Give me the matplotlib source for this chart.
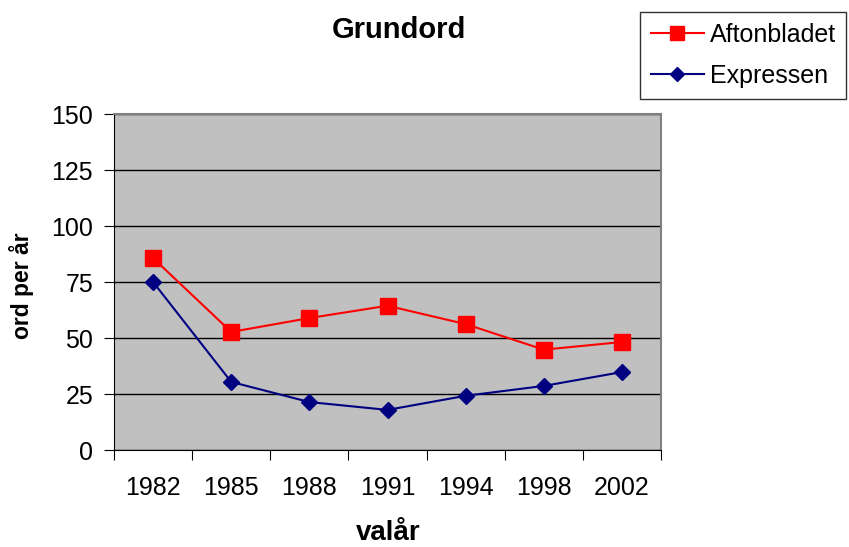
import matplotlib
matplotlib.use("Agg")
import matplotlib.pyplot as plt
from matplotlib.lines import Line2D

plt.rcParams['font.family'] = ['Liberation Sans', 'DejaVu Sans']

years = ["1982", "1985", "1988", "1991", "1994", "1998", "2002"]
aftonbladet = [85.7, 52.7, 58.9, 64.4, 56.2, 44.8, 48.2]
expressen = [75.0, 30.4, 21.4, 17.9, 24.2, 28.6, 34.8]
yticks = [0, 25, 50, 75, 100, 125, 150]

FS = 18

fig = plt.figure(figsize=(8.49, 5.47), dpi=100)
ax = fig.add_axes([114/849, 1-450/547, 547/849, 336/547])
ax.set_facecolor('#c0c0c0')

x = list(range(len(years)))
ax.plot(x, aftonbladet, color='#ff0000', marker='s', markersize=11, lw=1.5,
        markeredgecolor='#ff0000', label='Aftonbladet', zorder=3)
ax.plot(x, expressen, color='#000080', marker='D', markersize=8.5, lw=1.5,
        markeredgecolor='#000080', label='Expressen', zorder=3)

ax.set_xlim(-0.5, len(years) - 0.5)
ax.set_ylim(0, 150)
ax.set_yticks(yticks)
ax.set_yticklabels([str(v) for v in yticks])
ax.yaxis.grid(True, color='black', lw=1)
ax.set_axisbelow(True)

ax.set_xticks([i - 0.5 for i in range(len(years) + 1)])
ax.set_xticklabels([])
ax.set_xticks(x, minor=True)
ax.set_xticklabels(years, minor=True)
ax.tick_params(axis='x', which='minor', length=0, pad=19, labelsize=FS)
ax.tick_params(axis='x', which='major', length=7, direction='out', color='black')
ax.tick_params(axis='y', length=7, direction='out', labelsize=FS, pad=8)

for s in ['top', 'right']:
    ax.spines[s].set_color('#808080')
    ax.spines[s].set_linewidth(1.5)
ax.spines['left'].set_color('black')
ax.spines['bottom'].set_color('black')

fig.text(399/849, 1-30/547, 'Grundord', ha='center', va='center',
         fontsize=21, fontweight='bold')
fig.text(388/849, 1-533/547, 'valår', ha='center', va='center',
         fontsize=20, fontweight='bold')
fig.text(22/849, 1-286/547, 'ord per år', ha='center', va='center',
         fontsize=16.5, fontweight='bold', rotation=90)

handles = [
    Line2D([], [], color='#ff0000', marker='s', markersize=10, lw=1.5),
    Line2D([], [], color='#000080', marker='D', markersize=7, lw=1.5),
]
leg = fig.legend(handles, ['Aftonbladet', 'Expressen'],
                 loc='upper left', bbox_to_anchor=(640/849, 1-12/547),
                 fontsize=FS, frameon=True, fancybox=False, edgecolor='black',
                 handlelength=2.15, borderpad=0.42, labelspacing=0.7,
                 handletextpad=0.22, borderaxespad=0)
leg.get_frame().set_linewidth(1.0)

fig.savefig('out.png', dpi=100, facecolor='white')
